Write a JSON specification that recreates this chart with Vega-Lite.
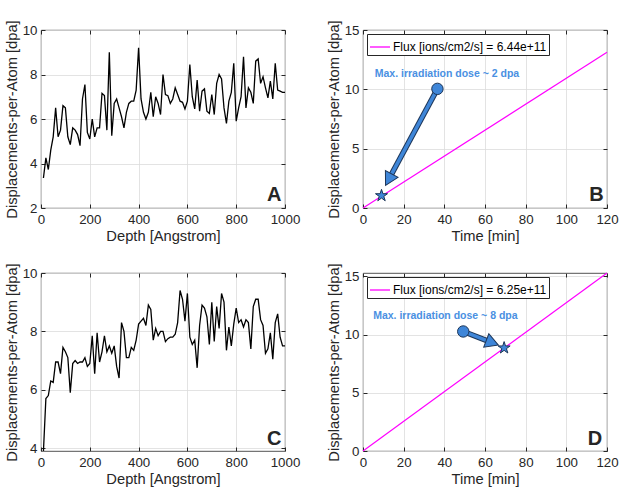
{
  "$schema": "https://vega.github.io/schema/vega-lite/v6.json",
  "padding": {"left": 3, "top": 19, "right": 5, "bottom": 5},
  "columns": 2,
  "bounds": "flush",
  "spacing": {"row": 65, "column": 78},
  "datasets": {
    "depthA": [
      {"depth": 10, "dpa": 3.35}, {"depth": 20, "dpa": 4.25}, {"depth": 30, "dpa": 3.73}, {"depth": 40, "dpa": 4.6}, {"depth": 50, "dpa": 5.2},
      {"depth": 60, "dpa": 6.5}, {"depth": 70, "dpa": 5.2}, {"depth": 80, "dpa": 5.5}, {"depth": 90, "dpa": 6.6}, {"depth": 100, "dpa": 6.5},
      {"depth": 110, "dpa": 5.2}, {"depth": 120, "dpa": 4.85}, {"depth": 130, "dpa": 5.6}, {"depth": 140, "dpa": 5.5}, {"depth": 150, "dpa": 5.3},
      {"depth": 160, "dpa": 4.8}, {"depth": 170, "dpa": 6.9}, {"depth": 180, "dpa": 7.55}, {"depth": 190, "dpa": 5.4}, {"depth": 200, "dpa": 5.1},
      {"depth": 210, "dpa": 6.0}, {"depth": 220, "dpa": 5.2}, {"depth": 230, "dpa": 5.6}, {"depth": 240, "dpa": 5.6}, {"depth": 250, "dpa": 7.15},
      {"depth": 260, "dpa": 7.05}, {"depth": 270, "dpa": 5.5}, {"depth": 280, "dpa": 9.0}, {"depth": 290, "dpa": 5.25}, {"depth": 300, "dpa": 6.7},
      {"depth": 310, "dpa": 6.9}, {"depth": 320, "dpa": 6.5}, {"depth": 330, "dpa": 6.1}, {"depth": 340, "dpa": 5.6}, {"depth": 350, "dpa": 6.3},
      {"depth": 360, "dpa": 6.7}, {"depth": 370, "dpa": 6.8}, {"depth": 380, "dpa": 6.8}, {"depth": 390, "dpa": 7.3}, {"depth": 400, "dpa": 9.2},
      {"depth": 410, "dpa": 6.9}, {"depth": 420, "dpa": 6.3}, {"depth": 430, "dpa": 6.0}, {"depth": 440, "dpa": 6.3}, {"depth": 450, "dpa": 7.2},
      {"depth": 460, "dpa": 6.1}, {"depth": 470, "dpa": 7.0}, {"depth": 480, "dpa": 6.7}, {"depth": 490, "dpa": 6.2}, {"depth": 500, "dpa": 8.0},
      {"depth": 510, "dpa": 7.1}, {"depth": 520, "dpa": 7.05}, {"depth": 530, "dpa": 6.7}, {"depth": 540, "dpa": 6.9}, {"depth": 550, "dpa": 7.4},
      {"depth": 560, "dpa": 7.1}, {"depth": 570, "dpa": 6.8}, {"depth": 580, "dpa": 6.75}, {"depth": 590, "dpa": 6.45}, {"depth": 600, "dpa": 6.8},
      {"depth": 610, "dpa": 8.45}, {"depth": 620, "dpa": 7.0}, {"depth": 630, "dpa": 6.45}, {"depth": 640, "dpa": 7.75}, {"depth": 650, "dpa": 6.35},
      {"depth": 660, "dpa": 7.25}, {"depth": 670, "dpa": 7.35}, {"depth": 680, "dpa": 6.35}, {"depth": 690, "dpa": 6.25}, {"depth": 700, "dpa": 7.1},
      {"depth": 710, "dpa": 6.2}, {"depth": 720, "dpa": 7.6}, {"depth": 730, "dpa": 8.0}, {"depth": 740, "dpa": 7.8}, {"depth": 750, "dpa": 6.5},
      {"depth": 760, "dpa": 5.8}, {"depth": 770, "dpa": 6.8}, {"depth": 780, "dpa": 7.2}, {"depth": 790, "dpa": 8.5}, {"depth": 800, "dpa": 5.9},
      {"depth": 810, "dpa": 6.5}, {"depth": 820, "dpa": 7.0}, {"depth": 830, "dpa": 8.8}, {"depth": 840, "dpa": 6.5}, {"depth": 850, "dpa": 7.4},
      {"depth": 860, "dpa": 7.2}, {"depth": 870, "dpa": 6.7}, {"depth": 880, "dpa": 8.6}, {"depth": 890, "dpa": 8.7}, {"depth": 900, "dpa": 7.6},
      {"depth": 910, "dpa": 7.9}, {"depth": 920, "dpa": 7.4}, {"depth": 930, "dpa": 6.95}, {"depth": 940, "dpa": 7.7}, {"depth": 950, "dpa": 6.9},
      {"depth": 960, "dpa": 8.5}, {"depth": 970, "dpa": 7.3}, {"depth": 980, "dpa": 7.25}, {"depth": 990, "dpa": 7.2}, {"depth": 1000, "dpa": 7.2}
    ],
    "depthC": [
      {"depth": 10, "dpa": 3.9}, {"depth": 20, "dpa": 5.7}, {"depth": 30, "dpa": 5.8}, {"depth": 40, "dpa": 6.3}, {"depth": 50, "dpa": 6.25},
      {"depth": 60, "dpa": 6.95}, {"depth": 70, "dpa": 6.95}, {"depth": 80, "dpa": 6.55}, {"depth": 90, "dpa": 7.45}, {"depth": 100, "dpa": 7.3},
      {"depth": 110, "dpa": 7.1}, {"depth": 120, "dpa": 5.9}, {"depth": 130, "dpa": 6.9}, {"depth": 140, "dpa": 7.0}, {"depth": 150, "dpa": 6.9},
      {"depth": 160, "dpa": 6.95}, {"depth": 170, "dpa": 6.95}, {"depth": 180, "dpa": 7.1}, {"depth": 190, "dpa": 6.8}, {"depth": 200, "dpa": 6.9},
      {"depth": 210, "dpa": 7.85}, {"depth": 220, "dpa": 6.55}, {"depth": 230, "dpa": 7.95}, {"depth": 240, "dpa": 6.95}, {"depth": 250, "dpa": 7.3},
      {"depth": 260, "dpa": 7.85}, {"depth": 270, "dpa": 7.3}, {"depth": 280, "dpa": 7.5}, {"depth": 290, "dpa": 7.25}, {"depth": 300, "dpa": 7.5},
      {"depth": 310, "dpa": 6.8}, {"depth": 320, "dpa": 6.4}, {"depth": 330, "dpa": 8.3}, {"depth": 340, "dpa": 8.0}, {"depth": 350, "dpa": 7.1},
      {"depth": 360, "dpa": 7.1}, {"depth": 370, "dpa": 7.45}, {"depth": 380, "dpa": 7.35}, {"depth": 390, "dpa": 7.7}, {"depth": 400, "dpa": 8.25},
      {"depth": 410, "dpa": 8.35}, {"depth": 420, "dpa": 8.45}, {"depth": 430, "dpa": 8.2}, {"depth": 440, "dpa": 8.9}, {"depth": 450, "dpa": 8.75},
      {"depth": 460, "dpa": 7.7}, {"depth": 470, "dpa": 8.1}, {"depth": 480, "dpa": 7.85}, {"depth": 490, "dpa": 8.0}, {"depth": 500, "dpa": 8.0},
      {"depth": 510, "dpa": 7.65}, {"depth": 520, "dpa": 7.75}, {"depth": 530, "dpa": 7.8}, {"depth": 540, "dpa": 7.8}, {"depth": 550, "dpa": 7.9},
      {"depth": 560, "dpa": 8.3}, {"depth": 570, "dpa": 9.4}, {"depth": 580, "dpa": 9.1}, {"depth": 590, "dpa": 8.35}, {"depth": 600, "dpa": 9.3},
      {"depth": 610, "dpa": 7.8}, {"depth": 620, "dpa": 7.55}, {"depth": 630, "dpa": 7.7}, {"depth": 640, "dpa": 6.75}, {"depth": 650, "dpa": 8.2},
      {"depth": 660, "dpa": 8.9}, {"depth": 670, "dpa": 8.8}, {"depth": 680, "dpa": 8.5}, {"depth": 690, "dpa": 7.55}, {"depth": 700, "dpa": 9.0},
      {"depth": 710, "dpa": 7.65}, {"depth": 720, "dpa": 8.85}, {"depth": 730, "dpa": 8.1}, {"depth": 740, "dpa": 9.3}, {"depth": 750, "dpa": 9.0},
      {"depth": 760, "dpa": 7.35}, {"depth": 770, "dpa": 8.15}, {"depth": 780, "dpa": 7.5}, {"depth": 790, "dpa": 8.25}, {"depth": 800, "dpa": 8.8},
      {"depth": 810, "dpa": 8.3}, {"depth": 820, "dpa": 8.4}, {"depth": 830, "dpa": 8.15}, {"depth": 840, "dpa": 8.4}, {"depth": 850, "dpa": 8.3},
      {"depth": 860, "dpa": 7.4}, {"depth": 870, "dpa": 8.85}, {"depth": 880, "dpa": 9.1}, {"depth": 890, "dpa": 9.1}, {"depth": 900, "dpa": 8.4},
      {"depth": 910, "dpa": 8.2}, {"depth": 920, "dpa": 7.25}, {"depth": 930, "dpa": 7.4}, {"depth": 940, "dpa": 7.95}, {"depth": 950, "dpa": 7.05},
      {"depth": 960, "dpa": 8.3}, {"depth": 970, "dpa": 8.6}, {"depth": 980, "dpa": 7.8}, {"depth": 990, "dpa": 7.5}, {"depth": 1000, "dpa": 7.5}
    ],
    "fluxB": [
      {"time": 0, "dpa": 0, "series": "Flux [ions/cm2/s] = 6.44e+11"},
      {"time": 120, "dpa": 13.12, "series": "Flux [ions/cm2/s] = 6.44e+11"}
    ],
    "fluxD": [
      {"time": 0, "dpa": 0, "series": "Flux [ions/cm2/s] = 6.25e+11"},
      {"time": 120, "dpa": 15.28, "series": "Flux [ions/cm2/s] = 6.25e+11"}
    ],
    "noteB": [
      {"cx": 36.6, "cy": 10.04, "sx": 13.85, "sy": 2.79, "hx": 11.1, "hy": 1.9, "px": 9.1, "py": 1.04, "lx": 41.3, "ly": 11.27, "note": "Max. irradiation dose ~ 2 dpa", "kx": 118.4, "ky": 0.62, "key": "B"}
    ],
    "noteD": [
      {"cx": 49.3, "cy": 10.26, "sx": 61.55, "sy": 9.43, "hx": 66.6, "hy": 9.09, "px": 69.4, "py": 8.85, "lx": 40.5, "ly": 11.55, "note": "Max. irradiation dose ~ 8 dpa", "kx": 117.7, "ky": 0.49, "key": "D"}
    ],
    "keyA": [{"kx": 985, "ky": 2.3, "key": "A"}],
    "keyC": [{"kx": 985, "ky": 4.09, "key": "C"}]
  },
  "concat": [
    {
      "width": 244,
      "height": 178,
      "layer": [
        {
          "data": {"name": "depthA"},
          "mark": {"type": "line", "color": "#000000", "strokeWidth": 1.3},
          "encoding": {
            "x": {"field": "depth", "type": "quantitative", "scale": {"domain": [0, 1000], "nice": false}, "axis": {"title": "Depth [Angstrom]", "format": "d", "values": [0, 200, 400, 600, 800, 1000]}},
            "y": {"field": "dpa", "type": "quantitative", "scale": {"domain": [2, 10], "nice": false}, "axis": {"title": "Displacements-per-Atom [dpa]", "values": [2, 4, 6, 8, 10]}}
          }
        },
        {
          "data": {"name": "depthA"},
          "mark": {"type": "line", "opacity": 0},
          "encoding": {
            "x": {"field": "depth", "type": "quantitative", "axis": {"orient": "top", "labels": false, "grid": false, "title": null, "values": [0, 200, 400, 600, 800, 1000]}},
            "y": {"field": "dpa", "type": "quantitative", "axis": {"orient": "right", "labels": false, "grid": false, "title": null, "values": [2, 4, 6, 8, 10]}}
          }
        },
        {
          "data": {"name": "keyA"},
          "mark": {"type": "text", "fontSize": 20, "fontWeight": "bold", "color": "#262626", "align": "right", "baseline": "alphabetic"},
          "encoding": {
            "x": {"field": "kx", "type": "quantitative", "axis": null},
            "y": {"field": "ky", "type": "quantitative", "axis": null},
            "text": {"field": "key"}
          }
        }
      ],
      "resolve": {"axis": {"x": "independent", "y": "independent"}}
    },
    {
      "width": 244,
      "height": 178,
      "layer": [
        {
          "data": {"name": "fluxB"},
          "mark": {"type": "line", "strokeWidth": 1.2},
          "encoding": {
            "x": {"field": "time", "type": "quantitative", "scale": {"domain": [0, 120], "nice": false}, "axis": {"title": "Time [min]", "values": [0, 20, 40, 60, 80, 100, 120]}},
            "y": {"field": "dpa", "type": "quantitative", "scale": {"domain": [0, 15], "nice": false}, "axis": {"title": "Displacements-per-Atom [dpa]", "values": [0, 5, 10, 15]}},
            "color": {
              "field": "series", "type": "nominal",
              "scale": {"domain": ["Flux [ions/cm2/s] = 6.44e+11"], "range": ["#ff00ff"]},
              "legend": {"orient": "top-left", "title": null, "symbolType": "stroke", "symbolStrokeWidth": 1.3, "symbolSize": 400, "labelFontSize": 12, "labelColor": "#000000", "labelFont": "Liberation Sans", "labelOffset": 2, "strokeColor": "#262626", "fillColor": "#ffffff", "padding": 2, "offset": 4}
            }
          }
        },
        {
          "data": {"name": "fluxB"},
          "mark": {"type": "line", "opacity": 0},
          "encoding": {
            "x": {"field": "time", "type": "quantitative", "axis": {"orient": "top", "labels": false, "grid": false, "title": null, "values": [0, 20, 40, 60, 80, 100, 120]}},
            "y": {"field": "dpa", "type": "quantitative", "axis": {"orient": "right", "labels": false, "grid": false, "title": null, "values": [0, 5, 10, 15]}}
          }
        },
        {
          "data": {"name": "noteB"},
          "mark": {"type": "rule", "color": "#1d3557", "strokeWidth": 5.5},
          "encoding": {
            "x": {"field": "cx", "type": "quantitative", "axis": null}, "y": {"field": "cy", "type": "quantitative", "axis": null},
            "x2": {"field": "sx"}, "y2": {"field": "sy"}
          }
        },
        {
          "data": {"name": "noteB"},
          "mark": {"type": "rule", "color": "#3f86d8", "strokeWidth": 3.5},
          "encoding": {
            "x": {"field": "cx", "type": "quantitative", "axis": null}, "y": {"field": "cy", "type": "quantitative", "axis": null},
            "x2": {"field": "sx"}, "y2": {"field": "sy"}
          }
        },
        {
          "data": {"name": "noteB"},
          "mark": {"type": "point", "shape": "M0,0 L0.55,1 L-0.55,1 Z", "size": 676, "angle": 208.2, "filled": true, "fill": "#3f86d8", "stroke": "#1d3557", "strokeWidth": 1, "opacity": 1},
          "encoding": {"x": {"field": "hx", "type": "quantitative", "axis": null}, "y": {"field": "hy", "type": "quantitative", "axis": null}}
        },
        {
          "data": {"name": "noteB"},
          "mark": {"type": "point", "shape": "circle", "size": 130, "filled": true, "fill": "#3f86d8", "stroke": "#1d3557", "strokeWidth": 1, "opacity": 1},
          "encoding": {"x": {"field": "cx", "type": "quantitative", "axis": null}, "y": {"field": "cy", "type": "quantitative", "axis": null}}
        },
        {
          "data": {"name": "noteB"},
          "mark": {"type": "point", "shape": "M0,-1 L0.2245,-0.309 L0.951,-0.309 L0.363,0.118 L0.588,0.809 L0,0.382 L-0.588,0.809 L-0.363,0.118 L-0.951,-0.309 L-0.2245,-0.309 Z", "size": 160, "filled": true, "fill": "#3f86d8", "stroke": "#1d3557", "strokeWidth": 1, "opacity": 1},
          "encoding": {"x": {"field": "px", "type": "quantitative", "axis": null}, "y": {"field": "py", "type": "quantitative", "axis": null}}
        },
        {
          "data": {"name": "noteB"},
          "mark": {"type": "text", "fontSize": 10.5, "fontWeight": "bold", "color": "#4a90e2", "align": "center", "baseline": "middle"},
          "encoding": {"x": {"field": "lx", "type": "quantitative", "axis": null}, "y": {"field": "ly", "type": "quantitative", "axis": null}, "text": {"field": "note"}}
        },
        {
          "data": {"name": "noteB"},
          "mark": {"type": "text", "fontSize": 20, "fontWeight": "bold", "color": "#262626", "align": "right", "baseline": "alphabetic"},
          "encoding": {"x": {"field": "kx", "type": "quantitative", "axis": null}, "y": {"field": "ky", "type": "quantitative", "axis": null}, "text": {"field": "key"}}
        }
      ],
      "resolve": {"axis": {"x": "independent", "y": "independent"}}
    },
    {
      "width": 244,
      "height": 178,
      "layer": [
        {
          "data": {"name": "depthC"},
          "mark": {"type": "line", "color": "#000000", "strokeWidth": 1.3, "clip": true},
          "encoding": {
            "x": {"field": "depth", "type": "quantitative", "scale": {"domain": [0, 1000], "nice": false}, "axis": {"title": "Depth [Angstrom]", "format": "d", "values": [0, 200, 400, 600, 800, 1000]}},
            "y": {"field": "dpa", "type": "quantitative", "scale": {"domain": [3.9, 10], "nice": false}, "axis": {"title": "Displacements-per-Atom [dpa]", "values": [4, 6, 8, 10]}}
          }
        },
        {
          "data": {"name": "depthC"},
          "mark": {"type": "line", "opacity": 0},
          "encoding": {
            "x": {"field": "depth", "type": "quantitative", "axis": {"orient": "top", "labels": false, "grid": false, "title": null, "values": [0, 200, 400, 600, 800, 1000]}},
            "y": {"field": "dpa", "type": "quantitative", "axis": {"orient": "right", "labels": false, "grid": false, "title": null, "values": [4, 6, 8, 10]}}
          }
        },
        {
          "data": {"name": "keyC"},
          "mark": {"type": "text", "fontSize": 20, "fontWeight": "bold", "color": "#262626", "align": "right", "baseline": "alphabetic"},
          "encoding": {
            "x": {"field": "kx", "type": "quantitative", "axis": null},
            "y": {"field": "ky", "type": "quantitative", "axis": null},
            "text": {"field": "key"}
          }
        }
      ],
      "resolve": {"axis": {"x": "independent", "y": "independent"}}
    },
    {
      "width": 244,
      "height": 178,
      "layer": [
        {
          "data": {"name": "fluxD"},
          "mark": {"type": "line", "strokeWidth": 1.2},
          "encoding": {
            "x": {"field": "time", "type": "quantitative", "scale": {"domain": [0, 120], "nice": false}, "axis": {"title": "Time [min]", "values": [0, 20, 40, 60, 80, 100, 120]}},
            "y": {"field": "dpa", "type": "quantitative", "scale": {"domain": [0, 15.28], "nice": false}, "axis": {"title": "Displacements-per-Atom [dpa]", "values": [0, 5, 10, 15]}},
            "color": {
              "field": "series", "type": "nominal",
              "scale": {"domain": ["Flux [ions/cm2/s] = 6.25e+11"], "range": ["#ff00ff"]},
              "legend": {"orient": "top-left", "title": null, "symbolType": "stroke", "symbolStrokeWidth": 1.3, "symbolSize": 400, "labelFontSize": 12, "labelColor": "#000000", "labelFont": "Liberation Sans", "labelOffset": 2, "strokeColor": "#262626", "fillColor": "#ffffff", "padding": 2, "offset": 4}
            }
          }
        },
        {
          "data": {"name": "fluxD"},
          "mark": {"type": "line", "opacity": 0},
          "encoding": {
            "x": {"field": "time", "type": "quantitative", "axis": {"orient": "top", "labels": false, "grid": false, "title": null, "values": [0, 20, 40, 60, 80, 100, 120]}},
            "y": {"field": "dpa", "type": "quantitative", "axis": {"orient": "right", "labels": false, "grid": false, "title": null, "values": [0, 5, 10, 15]}}
          }
        },
        {
          "data": {"name": "noteD"},
          "mark": {"type": "rule", "color": "#1d3557", "strokeWidth": 5.5},
          "encoding": {
            "x": {"field": "cx", "type": "quantitative", "axis": null}, "y": {"field": "cy", "type": "quantitative", "axis": null},
            "x2": {"field": "sx"}, "y2": {"field": "sy"}
          }
        },
        {
          "data": {"name": "noteD"},
          "mark": {"type": "rule", "color": "#3f86d8", "strokeWidth": 3.5},
          "encoding": {
            "x": {"field": "cx", "type": "quantitative", "axis": null}, "y": {"field": "cy", "type": "quantitative", "axis": null},
            "x2": {"field": "sx"}, "y2": {"field": "sy"}
          }
        },
        {
          "data": {"name": "noteD"},
          "mark": {"type": "point", "shape": "M0,0 L0.55,1 L-0.55,1 Z", "size": 676, "angle": 110.9, "filled": true, "fill": "#3f86d8", "stroke": "#1d3557", "strokeWidth": 1, "opacity": 1},
          "encoding": {"x": {"field": "hx", "type": "quantitative", "axis": null}, "y": {"field": "hy", "type": "quantitative", "axis": null}}
        },
        {
          "data": {"name": "noteD"},
          "mark": {"type": "point", "shape": "circle", "size": 130, "filled": true, "fill": "#3f86d8", "stroke": "#1d3557", "strokeWidth": 1, "opacity": 1},
          "encoding": {"x": {"field": "cx", "type": "quantitative", "axis": null}, "y": {"field": "cy", "type": "quantitative", "axis": null}}
        },
        {
          "data": {"name": "noteD"},
          "mark": {"type": "point", "shape": "M0,-1 L0.2245,-0.309 L0.951,-0.309 L0.363,0.118 L0.588,0.809 L0,0.382 L-0.588,0.809 L-0.363,0.118 L-0.951,-0.309 L-0.2245,-0.309 Z", "size": 160, "filled": true, "fill": "#3f86d8", "stroke": "#1d3557", "strokeWidth": 1, "opacity": 1},
          "encoding": {"x": {"field": "px", "type": "quantitative", "axis": null}, "y": {"field": "py", "type": "quantitative", "axis": null}}
        },
        {
          "data": {"name": "noteD"},
          "mark": {"type": "text", "fontSize": 10.5, "fontWeight": "bold", "color": "#4a90e2", "align": "center", "baseline": "middle"},
          "encoding": {"x": {"field": "lx", "type": "quantitative", "axis": null}, "y": {"field": "ly", "type": "quantitative", "axis": null}, "text": {"field": "note"}}
        },
        {
          "data": {"name": "noteD"},
          "mark": {"type": "text", "fontSize": 20, "fontWeight": "bold", "color": "#262626", "align": "right", "baseline": "alphabetic"},
          "encoding": {"x": {"field": "kx", "type": "quantitative", "axis": null}, "y": {"field": "ky", "type": "quantitative", "axis": null}, "text": {"field": "key"}}
        }
      ],
      "resolve": {"axis": {"x": "independent", "y": "independent"}}
    }
  ],
  "resolve": {"scale": {"color": "independent"}, "legend": {"color": "independent"}},
  "config": {
    "font": "Liberation Sans",
    "view": {"stroke": "#262626", "strokeWidth": 0.8},
    "axis": {
      "labelFont": "Liberation Sans",
      "labelFontSize": 13.3,
      "labelColor": "#262626",
      "titleFont": "Liberation Sans",
      "titleFontSize": 14.7,
      "titleFontWeight": "normal",
      "titleColor": "#262626",
      "gridColor": "#dcdcdc",
      "gridWidth": 0.8,
      "domain": false,
      "tickColor": "#262626",
      "tickSize": -4,
      "labelPadding": 8,
      "titlePadding": 3,
      "labelFlush": false
    },
    "text": {"font": "Liberation Sans"}
  }
}
